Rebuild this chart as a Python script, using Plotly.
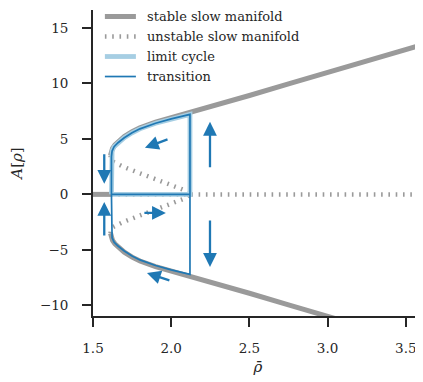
import plotly.graph_objects as go

# ---- data ----
# stable slow manifold: trivial branch (A = 0) before the fold
stable_zero_rho = [1.50, 1.615]
stable_zero_A = [0.0, 0.0]
# stable slow manifold: upper branch (lower branch is its mirror)
stable_rho = [1.612, 1.615, 1.625, 1.64, 1.66, 1.70, 1.75, 1.80, 1.90, 2.00, 2.12,
              2.30, 2.50, 2.75, 3.00, 3.25, 3.61]
stable_up = [3.5, 3.85, 4.15, 4.45, 4.75, 5.2, 5.65, 6.0, 6.5, 6.9, 7.3,
             8.1, 8.9, 9.95, 11.0, 12.0, 13.5]
stable_low = [-3.5, -3.85, -4.15, -4.45, -4.75, -5.2, -5.65, -6.0, -6.5, -6.9, -7.3,
              -8.1, -8.9, -9.95, -11.0, -12.0, -13.5]
# unstable slow manifold: trivial branch after the fold and the two inner branches
unstable_zero_rho = [1.615, 3.61]
unstable_zero_A = [0.0, 0.0]
unstable_rho = [1.612, 1.615, 1.625, 1.65, 1.70, 1.80, 1.90, 2.00, 2.06, 2.10, 2.12]
unstable_up = [3.5, 3.15, 2.95, 2.75, 2.45, 1.9, 1.4, 0.9, 0.6, 0.3, 0.0]
unstable_low = [-3.5, -3.15, -2.95, -2.75, -2.45, -1.9, -1.4, -0.9, -0.6, -0.3, 0.0]
# limit cycle (upper loop)
cycle_rho = [1.618, 1.618, 1.622, 1.635, 1.66, 1.70, 1.75, 1.80, 1.90, 2.00, 2.10, 2.12, 2.12, 1.618]
cycle_A = [0.0, 3.4, 3.9, 4.3, 4.65, 5.1, 5.55, 5.9, 6.4, 6.8, 7.15, 7.2, 0.0, 0.0]
# transition trajectory: lower loop, then onto the upper loop
trans_rho = [1.618, 1.618, 1.622, 1.635, 1.66, 1.70, 1.75, 1.80, 1.90, 2.00, 2.10, 2.12, 2.12, 1.618,
             1.618, 1.622, 1.635, 1.66, 1.70, 1.75, 1.80, 1.90, 2.00, 2.10, 2.12, 2.12, 1.618]
trans_A = [0.0, -3.4, -3.9, -4.3, -4.65, -5.1, -5.55, -5.9, -6.4, -6.8, -7.15, -7.2, 0.0, 0.0,
           3.4, 3.9, 4.3, 4.65, 5.1, 5.55, 5.9, 6.4, 6.8, 7.15, 7.2, 0.0, 0.0]
# flow arrows: (tail rho, tail A, head rho, head A)
arrow_tail_rho = [1.986, 1.819, 1.998, 1.572, 1.572, 2.248, 2.248]
arrow_tail_A = [5.0, -1.67, -7.79, 3.74, -3.83, 2.30, -2.21]
arrow_head_rho = [1.832, 1.966, 1.845, 1.572, 1.572, 2.248, 2.248]
arrow_head_A = [4.19, -1.67, -7.07, 0.95, -0.68, 6.53, -6.53]

legend_labels = ["stable slow manifold", "unstable slow manifold", "limit cycle", "transition"]

x_ticks = [1.5, 2.0, 2.5, 3.0, 3.5]
y_ticks = [-10, -5, 0, 5, 10, 15]
y_tick_text = ["\u221210", "\u22125", "0", "5", "10", "15"]

GRAY = "#9a9a9a"
LIGHT = "#a6cee3"
DARK = "#1f78b4"
FONT = "DejaVu Serif"
INK = "#262626"
DASH = "1.6px,5.7px"

styles = [dict(color=GRAY, width=5), dict(color=GRAY, width=4.5, dash=DASH),
          dict(color=LIGHT, width=4.8), dict(color=DARK, width=1.7)]

fig = go.Figure()
# stable
fig.add_trace(go.Scatter(x=stable_zero_rho, y=stable_zero_A, mode="lines",
                         line=styles[0], name=legend_labels[0]))
fig.add_trace(go.Scatter(x=stable_rho, y=stable_up, mode="lines", line=styles[0], name=legend_labels[0]))
fig.add_trace(go.Scatter(x=stable_rho, y=stable_low, mode="lines", line=styles[0], name=legend_labels[0]))
# unstable
fig.add_trace(go.Scatter(x=unstable_zero_rho, y=unstable_zero_A, mode="lines",
                         line=styles[1], name=legend_labels[1]))
fig.add_trace(go.Scatter(x=unstable_rho, y=unstable_up, mode="lines", line=styles[1], name=legend_labels[1]))
fig.add_trace(go.Scatter(x=unstable_rho, y=unstable_low, mode="lines", line=styles[1], name=legend_labels[1]))
# limit cycle
fig.add_trace(go.Scatter(x=cycle_rho, y=cycle_A, mode="lines", line=styles[2], name=legend_labels[2]))
# transition
fig.add_trace(go.Scatter(x=trans_rho, y=trans_A, mode="lines", line=styles[3], name=legend_labels[3]))

for tr, ta, hr, ha in zip(arrow_tail_rho, arrow_tail_A, arrow_head_rho, arrow_head_A):
    fig.add_annotation(x=hr, y=ha, ax=tr, ay=ta, xref="x", yref="y", axref="x", ayref="y",
                       showarrow=True, arrowhead=2, arrowsize=1.2, arrowwidth=2.3,
                       arrowcolor=DARK, text="")

# legend drawn in the top-left corner of the axes (positions relative to the plot area)
leg_y0 = 0.9788
leg_step = 0.0654
for i, (lab, st) in enumerate(zip(legend_labels, styles)):
    yy = leg_y0 - i * leg_step
    fig.add_shape(type="line", xref="paper", yref="paper", x0=0.036, x1=0.130, y0=yy, y1=yy,
                  line=st)
    fig.add_annotation(xref="paper", yref="paper", x=0.161, y=yy, xanchor="left", yanchor="middle",
                       text=lab, showarrow=False, borderpad=0,
                       font=dict(family=FONT, size=13, color=INK))

axis_common = dict(showgrid=False, zeroline=False, showline=True, linecolor=INK,
                   linewidth=1.8, ticks="outside", ticklen=9, tickwidth=1.6, automargin=False,
                   tickcolor=INK, tickfont=dict(family=FONT, size=13.5, color=INK))

# the page places the figure 8px from the top-left corner of the window
fig.update_layout(
    width=415, height=374,
    margin=dict(l=85, r=0, t=2, b=66),
    paper_bgcolor="white", plot_bgcolor="white",
    showlegend=False,
    xaxis=dict(range=[1.5, 3.61], tickvals=x_ticks, tickformat=".1f",
               ticklabelstandoff=10,
               title=dict(text="<i>\u03c1\u0304</i>", font=dict(family=FONT, size=15, color=INK),
                          standoff=6),
               **axis_common),
    yaxis=dict(range=[-10.95, 16.6], tickvals=y_ticks, ticktext=y_tick_text,
               ticklabelstandoff=11,
               title=dict(text="<i>A</i>[<i>\u03c1</i>]", font=dict(family=FONT, size=15, color=INK),
                          standoff=14),
               **axis_common),
)

fig.write_html("out.html")
